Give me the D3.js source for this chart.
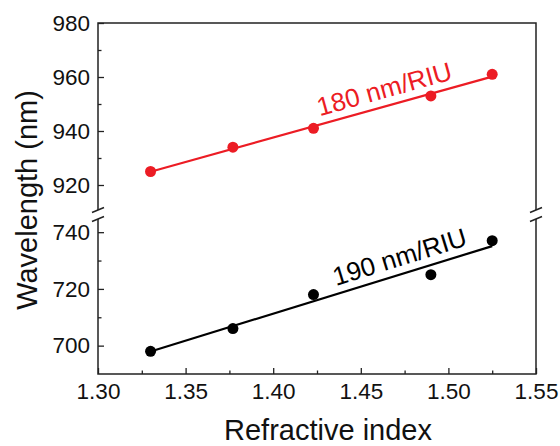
<!DOCTYPE html>
<html>
<head>
<meta charset="utf-8">
<script src="https://cdn.jsdelivr.net/npm/d3@7"></script>
<style>
  body { margin: 0; background: #fff; }
  svg { font-family: "Liberation Sans", Arial, sans-serif; }
</style>
</head>
<body>
<svg id="chart" width="560" height="446"></svg>
<script>
// refractive index of the surrounding medium
const refractiveIndex = [1.330, 1.377, 1.423, 1.490, 1.525];
// resonance wavelengths (nm)
const redWavelength = [925, 934, 941, 953, 961];
const blackWavelength = [698, 706, 718, 725, 737];
const redLabel = "180 nm/RIU";
const blackLabel = "190 nm/RIU";

const xTicks = [1.30, 1.35, 1.40, 1.45, 1.50, 1.55];
const upperTicks = [920, 940, 960, 980];
const lowerTicks = [700, 720, 740];

const svg = d3.select("#chart");
const plotLeft = 98, plotRight = 536, plotTop = 23, plotBottom = 374;
const breakTop = 212, breakBottom = 218;

const x = d3.scaleLinear().domain([1.30, 1.55]).range([plotLeft, plotRight]);
const yUp = d3.scaleLinear().domain([910, 980]).range([breakTop, plotTop]);
const yLow = d3.scaleLinear().domain([690, 745]).range([plotBottom, breakBottom]);

const axisColor = "#222";

// least squares fit
function fit(xs, ys) {
  const mx = d3.mean(xs), my = d3.mean(ys);
  const sxy = d3.sum(xs, (v, i) => (v - mx) * (ys[i] - my));
  const sxx = d3.sum(xs, v => (v - mx) * (v - mx));
  const k = sxy / sxx;
  return v => my + k * (v - mx);
}

// x axis (ticks inside)
svg.append("g").attr("transform", `translate(0,${plotBottom})`)
  .call(d3.axisBottom(x).tickValues(xTicks).tickSize(-6).tickPadding(9).tickFormat(d3.format(".2f")));
svg.append("g").attr("transform", `translate(0,${plotBottom})`)
  .call(d3.axisBottom(x).tickValues([1.325, 1.375, 1.425, 1.475, 1.525]).tickSize(-3.5).tickFormat(""));

// y axes, two segments
svg.append("g").attr("transform", `translate(${plotLeft},0)`)
  .call(d3.axisLeft(yUp).tickValues(upperTicks).tickSize(-6).tickPadding(8));
svg.append("g").attr("transform", `translate(${plotLeft},0)`)
  .call(d3.axisLeft(yUp).tickValues([930, 950, 970]).tickSize(-3.5).tickFormat(""));
svg.append("g").attr("transform", `translate(${plotLeft},0)`)
  .call(d3.axisLeft(yLow).tickValues(lowerTicks).tickSize(-6).tickPadding(8));
svg.append("g").attr("transform", `translate(${plotLeft},0)`)
  .call(d3.axisLeft(yLow).tickValues([710, 730]).tickSize(-3.5).tickFormat(""));

svg.selectAll(".domain").remove();
svg.selectAll(".tick line").attr("stroke", axisColor).attr("stroke-width", 1.3);
svg.selectAll(".tick text").attr("font-size", 22.5).attr("fill", "#111")
  .attr("font-family", "Liberation Sans, Arial, sans-serif");

// frame with break marks
const frame = svg.append("g").attr("stroke", axisColor).attr("stroke-width", 1.5).attr("fill", "none");
frame.append("path").attr("d", `M${plotLeft},${breakTop - 2}V${plotTop}H${plotRight}V${breakTop - 2}`);
frame.append("path").attr("d", `M${plotLeft},${breakBottom + 1}V${plotBottom}H${plotRight}V${breakBottom + 1}`);
[plotLeft, plotRight].forEach(ax => {
  [breakTop - 2, breakBottom + 1].forEach(by => {
    frame.append("line")
      .attr("x1", ax - 6).attr("y1", by + 2.5)
      .attr("x2", ax + 6).attr("y2", by - 2.5);
  });
});

// series
function drawSeries(ys, yScale, color, label, lx) {
  const f = fit(refractiveIndex, ys);
  const x0 = refractiveIndex[0], x1 = refractiveIndex[refractiveIndex.length - 1];
  svg.append("line")
    .attr("x1", x(x0)).attr("y1", yScale(f(x0)))
    .attr("x2", x(x1)).attr("y2", yScale(f(x1)))
    .attr("stroke", color).attr("stroke-width", 2.2);
  svg.append("g").selectAll("circle")
    .data(refractiveIndex)
    .enter().append("circle")
    .attr("cx", d => x(d))
    .attr("cy", (d, i) => yScale(ys[i]))
    .attr("r", 5.5)
    .attr("fill", color);

  const angle = Math.atan2(yScale(f(x1)) - yScale(f(x0)), x(x1) - x(x0)) * 180 / Math.PI;
  svg.append("text")
    .attr("transform", `translate(${x(lx)},${yScale(f(lx))}) rotate(${angle})`)
    .attr("y", -8)
    .attr("text-anchor", "middle")
    .attr("font-size", 26)
    .attr("fill", color)
    .text(label);
}

drawSeries(redWavelength, yUp, "#ec1c24", redLabel, 1.466);
drawSeries(blackWavelength, yLow, "#000", blackLabel, 1.475);

// axis titles
svg.append("text")
  .attr("x", (plotLeft + plotRight) / 2 + 11).attr("y", 440)
  .attr("text-anchor", "middle")
  .attr("font-size", 29)
  .attr("fill", "#111")
  .text("Refractive index");

svg.append("text")
  .attr("transform", "rotate(-90)")
  .attr("x", -200).attr("y", 37)
  .attr("text-anchor", "middle")
  .attr("font-size", 29)
  .attr("fill", "#111")
  .text("Wavelength (nm)");
</script>
</body>
</html>
